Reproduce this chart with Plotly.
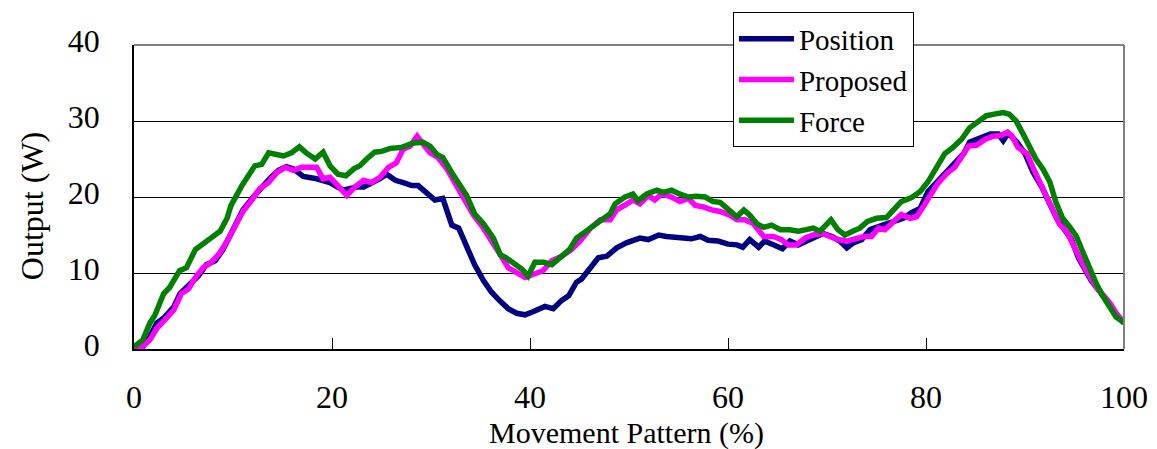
import plotly.graph_objects as go

# Output power over one movement cycle for three control schemes
position_x = [0.0, 0.9, 1.6, 2.3, 3.1, 4.0, 4.65, 5.7, 6.5, 7.3, 8.2, 9.0, 10.0, 11.0, 12.05, 12.9,
              13.7, 14.6, 15.4, 16.1, 17.1, 18.45, 19.8, 21.1, 22.5, 23.2, 24.2, 24.85, 25.5, 26.4,
              27.2, 28.05, 28.7, 29.6, 30.4, 31.2, 32.1, 32.8, 33.6, 34.4, 35.3, 36.1, 36.9, 37.8,
              38.65, 39.5, 40.3, 41.5, 42.35, 43.2, 43.9, 44.7, 45.2, 46.1, 46.9, 47.75, 48.75, 49.8,
              51.1, 51.95, 53.0, 53.8, 55.15, 56.3, 57.2, 58.0, 59.0, 60.0, 60.9, 61.5, 62.2, 63.1,
              63.7, 64.75, 65.5, 66.25, 67.1, 67.95, 68.8, 69.6, 70.5, 71.3, 72.0, 72.7, 73.5, 74.35,
              75.2, 76.0, 76.9, 77.7, 78.5, 79.4, 80.2, 81.1, 82.1, 82.9, 83.8, 84.4, 85.45, 86.5,
              87.3, 87.8, 88.3, 89.2, 90.0, 90.8, 91.7, 92.5, 93.2, 94.0, 94.7, 95.4, 96.05, 96.7,
              97.6, 98.4, 99.3, 100.0]
position_y = [0.1, 0.3, 1.6, 3.4, 4.2, 5.5, 7.3, 8.6, 9.6, 11.1, 11.6, 13.1, 15.9, 18.3, 20.0, 21.3,
              22.4, 23.5, 24.0, 23.7, 22.7, 22.4, 21.9, 20.9, 21.3, 21.3, 21.9, 22.4, 23.0, 22.2,
              21.9, 21.5, 21.5, 20.4, 19.6, 19.8, 16.3, 15.9, 13.3, 11.1, 9.0, 7.5, 6.4, 5.3,
              4.7, 4.5, 4.9, 5.6, 5.3, 6.4, 7.0, 8.8, 9.2, 10.7, 12.0, 12.2, 13.3, 14.0,
              14.6, 14.4, 15.0, 14.8, 14.7, 14.5, 14.8, 14.3, 14.2, 13.8, 13.7, 13.4, 14.4, 13.4,
              14.2, 13.7, 13.2, 14.2, 13.7, 14.2, 14.8, 15.2, 14.8, 14.2, 13.3, 14.0, 14.4, 15.7,
              16.1, 16.4, 16.8, 17.2, 17.9, 18.5, 20.7, 22.0, 23.3, 24.4, 25.7, 27.2, 27.8, 28.3,
              28.3, 27.4, 28.4, 27.2, 25.7, 23.3, 21.3, 19.0, 17.2, 15.7, 14.4, 12.0, 10.3, 9.0,
              7.5, 6.0, 4.5, 3.4]

proposed_x = [0.0, 0.9, 1.6, 2.3, 3.1, 4.0, 4.8, 5.5, 6.3, 7.0, 7.8, 8.7, 9.5, 10.2, 11.0, 11.9,
              12.7, 13.6, 14.4, 15.3, 16.1, 16.9, 17.8, 18.45, 19.1, 19.8, 20.6, 21.5, 22.3, 23.2,
              24.0, 24.85, 25.7, 26.5, 27.2, 27.9, 28.6, 29.2, 29.9, 30.7, 31.6, 32.4, 33.3, 34.3,
              35.3, 36.3, 37.1, 37.8, 38.6, 39.5, 40.3, 41.3, 42.2, 43.2, 44.2, 45.05, 46.1, 47.1,
              48.1, 48.75, 49.8, 50.4, 51.1, 51.95, 52.6, 53.3, 54.3, 55.15, 56.0, 56.7, 57.5, 58.35,
              59.2, 60.2, 60.9, 61.7, 62.55, 63.6, 64.6, 65.4, 66.1, 66.9, 67.8, 68.6, 69.5, 70.3,
              71.1, 72.0, 72.8, 73.7, 74.5, 75.2, 75.85, 76.7, 77.5, 78.4, 79.05, 79.7, 80.4, 81.2,
              82.1, 82.9, 83.8, 84.3, 85.1, 86.0, 86.8, 87.5, 88.2, 88.65, 89.3, 90.2, 90.8, 91.5,
              92.2, 92.9, 93.5, 94.2, 94.7, 95.2, 95.9, 96.6, 97.2, 97.9, 98.6, 99.3, 100.0]
proposed_y = [0.1, 0.35, 1.2, 2.7, 3.8, 5.1, 7.3, 7.9, 9.6, 10.7, 11.4, 12.7, 14.4, 16.3, 18.1, 19.6,
              21.1, 21.9, 23.2, 23.9, 23.5, 23.9, 23.9, 23.9, 22.4, 22.6, 21.5, 20.2, 21.3, 22.2,
              21.9, 22.6, 23.9, 24.5, 26.3, 26.7, 28.0, 26.9, 25.8, 25.2, 23.7, 21.9, 19.8, 17.6,
              15.9, 14.0, 12.2, 10.7, 10.1, 9.4, 9.8, 10.3, 11.6, 12.2, 13.1, 14.2, 15.9, 17.0,
              17.0, 18.3, 19.1, 19.6, 19.1, 20.2, 19.6, 20.4, 20.0, 19.4, 19.8, 18.9, 18.7, 18.3,
              18.1, 17.6, 17.0, 17.0, 16.5, 14.8, 14.8, 14.4, 13.7, 13.7, 14.6, 15.0, 15.2, 14.8,
              14.4, 14.2, 14.4, 14.8, 14.8, 15.9, 15.7, 16.8, 17.7, 17.2, 17.4, 18.7, 20.3, 21.8,
              23.1, 23.9, 25.7, 26.7, 26.8, 27.6, 28.0, 28.1, 28.5, 28.1, 26.5, 25.7, 23.9, 22.0,
              19.8, 17.9, 16.4, 15.5, 14.2, 12.5, 11.0, 9.4, 8.1, 7.1, 6.0, 4.5, 3.5]

force_x = [0.0, 0.9, 1.6, 2.1, 3.0, 3.6, 4.6, 5.3, 6.2, 7.3, 8.3, 8.7, 9.4, 9.8, 10.9, 11.6,
           12.2, 12.9, 13.6, 14.4, 15.1, 15.9, 16.7, 17.4, 18.3, 19.1, 19.8, 20.6, 21.4, 22.2,
           22.8, 23.5, 24.3, 25.0, 25.9, 27.0, 28.2, 29.2, 29.9, 30.6, 31.2, 32.1, 32.9, 33.6,
           34.4, 35.3, 36.3, 37.0, 37.6, 38.3, 39.2, 39.8, 40.5, 41.4, 42.2, 43.0, 44.0, 44.7,
           45.7, 46.6, 47.4, 48.1, 48.6, 49.6, 50.4, 50.9, 51.8, 52.8, 53.5, 54.3, 55.1, 56.0,
           56.8, 57.7, 58.5, 59.2, 60.0, 60.9, 61.6, 62.2, 62.9, 63.6, 64.4, 65.3, 66.2, 67.1,
           67.9, 68.6, 69.3, 69.9, 70.4, 71.1, 71.8, 72.6, 73.3, 74.1, 75.0, 76.0, 76.7, 77.5,
           78.5, 79.4, 80.2, 81.0, 81.9, 82.7, 83.6, 84.4, 85.2, 86.1, 86.9, 87.8, 88.4, 89.1,
           89.8, 90.5, 91.1, 91.8, 92.5, 93.1, 93.8, 94.5, 95.2, 95.8, 96.5, 97.2, 97.8, 98.5,
           99.2, 100.0]
force_y = [0.3, 1.2, 3.4, 4.4, 7.3, 8.1, 10.3, 10.7, 13.1, 14.2, 15.0, 15.5, 17.2, 18.9, 21.5, 22.8,
           24.1, 24.3, 25.8, 25.6, 25.4, 25.8, 26.6, 25.8, 25.0, 25.9, 24.1, 23.0, 22.8, 23.7,
           24.1, 25.0, 25.9, 26.0, 26.4, 26.5, 27.1, 27.2, 26.7, 25.6, 25.2, 23.2, 21.7, 20.2,
           17.8, 16.5, 14.6, 12.4, 12.0, 11.4, 10.5, 9.6, 11.4, 11.4, 11.1, 12.0, 13.1, 14.6,
           15.5, 16.5, 17.2, 17.8, 19.1, 20.0, 20.4, 19.5, 20.4, 20.9, 20.6, 20.9, 20.4, 20.0,
           20.1, 20.0, 19.4, 19.3, 18.4, 17.4, 18.3, 17.6, 16.5, 16.0, 16.3, 15.7, 15.7, 15.5,
           15.7, 15.9, 15.5, 16.3, 17.0, 15.7, 15.0, 15.5, 15.9, 16.8, 17.2, 17.3, 18.3, 19.4,
           19.9, 20.7, 22.0, 23.9, 25.7, 26.5, 27.6, 29.1, 29.9, 30.7, 30.9, 31.1, 30.9, 30.0,
           28.3, 26.5, 25.0, 23.7, 22.0, 19.4, 17.2, 16.1, 14.8, 12.9, 10.7, 8.6, 7.1, 5.5,
           4.2, 3.5]

series = [
    ("Position", position_x, position_y, "#000080"),
    ("Proposed", proposed_x, proposed_y, "#FF00FF"),
    ("Force", force_x, force_y, "#008000"),
]

x_ticks = [0, 20, 40, 60, 80, 100]
y_ticks = [0, 10, 20, 30, 40]

FONT = "Liberation Serif, DejaVu Serif, serif"

fig = go.Figure()
for name, xs, ys, color in series:
    fig.add_trace(go.Scatter(
        x=xs, y=ys, name=name, mode="lines",
        line=dict(color=color, width=5.5, shape="linear"),
    ))

fig.update_layout(
    width=1157, height=449,
    margin=dict(l=134, r=33, t=40, b=100),
    paper_bgcolor="white", plot_bgcolor="white",
    font=dict(family=FONT, size=32, color="black"),
    showlegend=True,
    legend=dict(
        x=0.605, y=1.107, xanchor="left", yanchor="top",
        bgcolor="white", bordercolor="black", borderwidth=1,
        font=dict(family=FONT, size=29, color="black"),
        itemwidth=55, tracegroupgap=0,
    ),
    xaxis=dict(
        range=[0, 100], tickvals=x_ticks, ticktext=[str(v) for v in x_ticks],
        showgrid=False, zeroline=False, automargin=False,
        showline=True, linecolor="black", linewidth=1.5,
        ticks="inside", ticklen=11, tickcolor="black", tickwidth=1,
        tickfont=dict(family=FONT, size=32, color="black"),
        ticklabelstandoff=19,
    ),
    yaxis=dict(
        range=[0, 40], tickvals=y_ticks, ticktext=[str(v) for v in y_ticks],
        showgrid=True, gridcolor="black", gridwidth=1, zeroline=False, automargin=False,
        showline=True, linecolor="black", linewidth=1.5,
        ticks="inside", ticklen=11, tickcolor="black", tickwidth=1,
        tickfont=dict(family=FONT, size=32, color="black"),
        ticklabelstandoff=26, ticklabelshift=-4,
    ),
    annotations=[
        dict(text="Output (W)", textangle=-90,
             xref="paper", yref="paper", x=-0.103, y=0.47,
             xanchor="center", yanchor="middle", showarrow=False,
             font=dict(family=FONT, size=32, color="black")),
        dict(text="Movement Pattern (%)",
             xref="paper", yref="paper", x=0.497, y=0.0, yshift=-84,
             xanchor="center", yanchor="middle", showarrow=False,
             font=dict(family=FONT, size=30, color="black")),
    ],
    shapes=[
        dict(type="line", xref="paper", yref="paper", x0=0, x1=1, y0=1, y1=1,
             line=dict(color="#808080", width=2), layer="above"),
        dict(type="line", xref="paper", yref="paper", x0=1, x1=1, y0=0, y1=1,
             line=dict(color="#808080", width=2), layer="above"),
    ],
)

fig.write_html("out.html")
